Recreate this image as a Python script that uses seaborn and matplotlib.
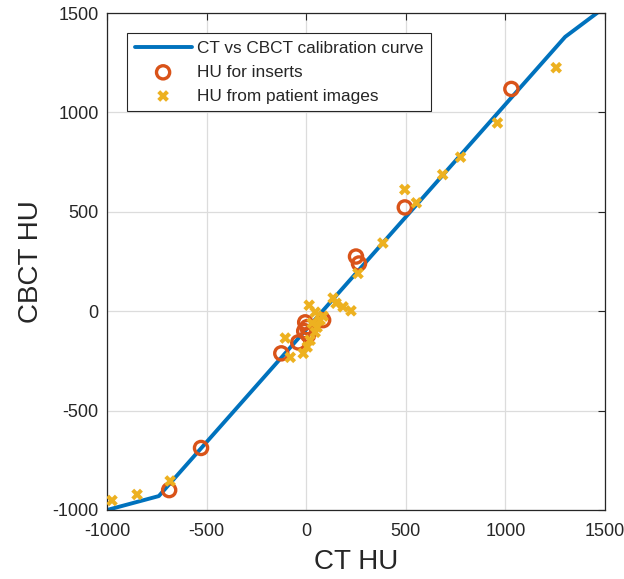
import matplotlib
matplotlib.use("Agg")
import matplotlib.pyplot as plt
import seaborn as sns
import pandas as pd

# Calibration curve
curve_ct = [-1000, -740, 1300, 1500]
curve_cbct = [-1000, -930, 1380, 1530]

# HU for inserts
insert_ct = [-125, -40, -10, -5, 5, 10, 85, 250, 265, 495, 1030, -528, -688]
insert_cbct = [-212, -157, -100, -56, -80, -120, -45, 275, 240, 522, 1118, -688, -900]

# HU from patient images
patient_ct = [-975, -849, -683, 1255, 960, 775, 685, 553, 495, 385, 260, 225, 185, 135,
              15, 45, -105, -80, -15, 20, 55, 70, 85, 45, 150, 30, 5]
patient_cbct = [-952, -922, -854, 1225, 947, 775, 687, 545, 612, 343, 190, 2, 22, 66,
                30, -5, -135, -232, -212, -146, -81, -45, -25, -106, 40, -60, -180]

BLUE = "#0072BD"
ORANGE = "#D95319"
YELLOW = "#EDB120"

sns.set_theme(style="white")
plt.rcParams["font.family"] = ["Liberation Sans", "DejaVu Sans"]
plt.rcParams["axes.unicode_minus"] = False

fig = plt.figure(figsize=(6.24, 5.79), dpi=100)
ax = fig.add_axes([107/624, 1-510/579, (605-107)/624, (510-13)/579])

df_curve = pd.DataFrame({"ct": curve_ct, "cbct": curve_cbct})
df_ins = pd.DataFrame({"ct": insert_ct, "cbct": insert_cbct})
df_pat = pd.DataFrame({"ct": patient_ct, "cbct": patient_cbct})

sns.lineplot(data=df_curve, x="ct", y="cbct", sort=False, ax=ax, color=BLUE,
             linewidth=2.8, label="CT vs CBCT calibration curve", zorder=2)
sns.scatterplot(data=df_ins, x="ct", y="cbct", ax=ax, marker="o", s=90,
                facecolors="none", edgecolor=ORANGE, linewidth=2.4,
                label="HU for inserts", zorder=3)
sns.scatterplot(data=df_pat, x="ct", y="cbct", ax=ax, marker="X", s=70,
                color=YELLOW, edgecolor="none", linewidth=0,
                label="HU from patient images", zorder=4)

ax.set_xlim(-1000, 1500)
ax.set_ylim(-1000, 1500)
ax.set_xticks([-1000, -500, 0, 500, 1000, 1500])
ax.set_yticks([-1000, -500, 0, 500, 1000, 1500])
ax.grid(True, color="#dcdcdc", linewidth=0.9)
ax.set_axisbelow(True)
for s in ax.spines.values():
    s.set_visible(True)
    s.set_color("#262626")
    s.set_linewidth(0.9)
ax.tick_params(direction="in", length=5, width=0.8, colors="#262626",
               labelsize=13, top=True, right=True, labelcolor="#262626")
ax.tick_params(axis="x", pad=9.5)
ax.tick_params(axis="y", pad=6)
ax.set_xlabel("CT HU", fontsize=20, color="#262626", labelpad=6)
ax.set_ylabel("CBCT HU", fontsize=20, color="#262626", labelpad=6)

leg = ax.legend(loc="upper left", bbox_to_anchor=(0.04, 0.959), fontsize=12.4,
                frameon=True, fancybox=False, edgecolor="#262626",
                framealpha=1, handlelength=3.3, borderpad=0.45,
                labelspacing=0.5, handletextpad=0.3, borderaxespad=0)
leg.get_frame().set_linewidth(0.8)

fig.savefig("out.png", dpi=100)
